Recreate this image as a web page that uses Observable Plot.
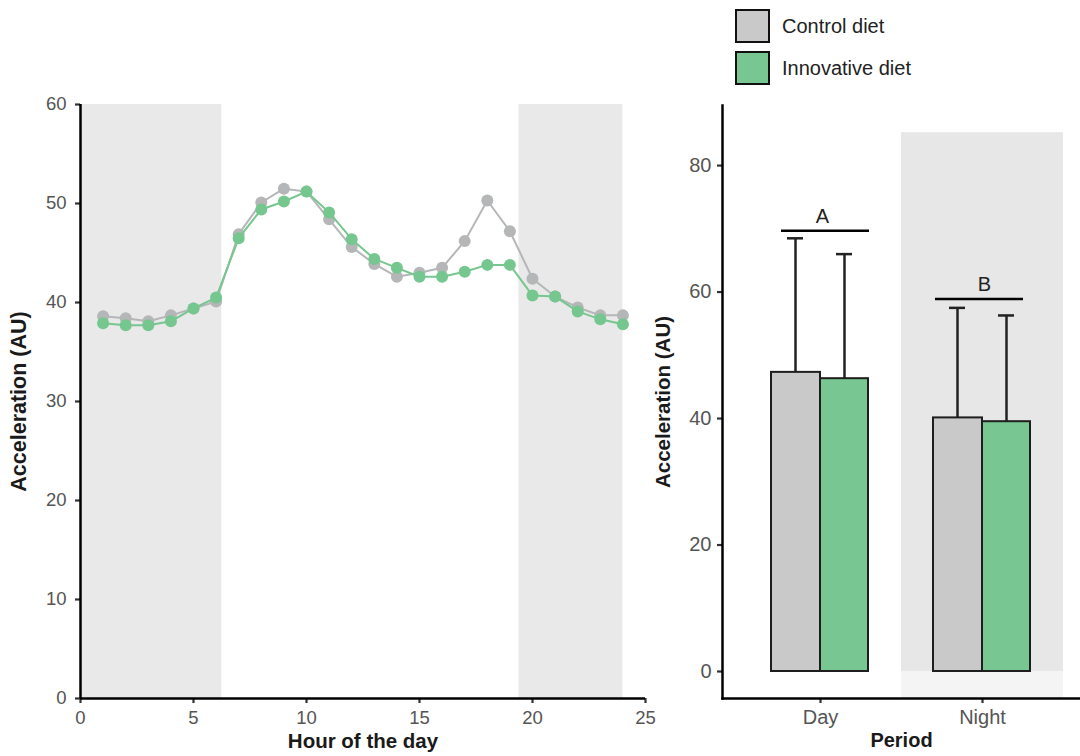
<!DOCTYPE html>
<html>
<head>
<meta charset="utf-8">
<script src="https://cdn.jsdelivr.net/npm/d3@7"></script>
<script src="https://cdn.jsdelivr.net/npm/@observablehq/plot@0.6"></script>
<style>
  html, body { margin: 0; padding: 0; background: #fff; }
  #wrap { position: relative; width: 1080px; height: 756px; overflow: hidden; font-family: "Liberation Sans", Arial, sans-serif; }
  #left, #right { position: absolute; top: 0; }
  #left { left: 0; }
  #right { left: 640px; }
  .legend { position: absolute; left: 735px; top: 9px; }
  .item { display: flex; align-items: center; height: 34px; margin-bottom: 8px; }
  .sw { width: 31px; height: 30px; border: 2px solid #111; margin-right: 12px; }
  .lab { font-size: 20px; color: #222; }
  svg { background: transparent !important; }
</style>
</head>
<body>
<div id="wrap">
  <div id="left"></div>
  <div id="right"></div>
  <div class="legend" id="legend"></div>
</div>
<script>
// ---- Data ----
const diets = ["Control diet", "Innovative diet"];
const dietColors = ["#c8c9c8", "#78c792"];
const lineColors = ["#b5b6b7", "#76c68f"];

const hours = [1,2,3,4,5,6,7,8,9,10,11,12,13,14,15,16,17,18,19,20,21,22,23,24];
const controlAccel = [38.6,38.4,38.1,38.7,39.4,40.1,46.9,50.1,51.5,51.2,48.4,45.6,43.9,42.6,43.0,43.5,46.2,50.3,47.2,42.4,40.6,39.5,38.7,38.7];
const innovativeAccel = [37.9,37.7,37.7,38.1,39.4,40.5,46.5,49.4,50.2,51.2,49.1,46.4,44.4,43.5,42.6,42.6,43.1,43.8,43.8,40.7,40.6,39.1,38.3,37.8];
const nightStart = [0, 19.4];
const nightEnd = [6.25, 24];
const hourTicks = [0,5,10,15,20,25];
const accelTicks = [0,10,20,30,40,50,60];

const periods = ["Day", "Night"];
const controlMean = [47.3, 40.1];
const controlUpper = [68.5, 57.5];
const innovativeMean = [46.3, 39.5];
const innovativeUpper = [66.0, 56.3];
const sigLetters = ["A", "B"];
const sigY = [69.7, 58.9];
const shadeTop = 85.2;
const barTicks = [0,20,40,60,80];
const barYMin = -4.27, barYMax = 89.5;

// ---- Build tables ----
const lineRows = [
  ...hours.map((h, i) => ({hour: h, value: controlAccel[i], diet: diets[0]})),
  ...hours.map((h, i) => ({hour: h, value: innovativeAccel[i], diet: diets[1]}))
];
const nights = nightStart.map((s, i) => ({start: s, end: nightEnd[i]}));
const ctrlRows = periods.map((p, i) => ({period: p, mean: controlMean[i], upper: controlUpper[i], diet: diets[0]}));
const innoRows = periods.map((p, i) => ({period: p, mean: innovativeMean[i], upper: innovativeUpper[i], diet: diets[1]}));
const sigRows = periods.map((p, i) => ({period: p, letter: sigLetters[i], y: sigY[i]}));

const FONT = "Liberation Sans, Arial, sans-serif";

// ---- Left chart ----
const left = Plot.plot({
  width: 665, height: 756,
  marginLeft: 80, marginTop: 104, marginBottom: 58, marginRight: 20,
  style: {fontFamily: FONT, fontSize: "18px", background: "transparent"},
  x: {domain: [0, 25], axis: null},
  y: {domain: [0, 60], axis: null},
  color: {domain: diets, range: lineColors},
  marks: [
    Plot.rect(nights, {x1: "start", x2: "end", y1: 0, y2: 60, fill: "#e8e9e8"}),
    Plot.line(lineRows.filter(d => d.diet === diets[0]), {x: "hour", y: "value", stroke: "diet", strokeWidth: 2}),
    Plot.dot(lineRows.filter(d => d.diet === diets[0]), {x: "hour", y: "value", fill: "diet", r: 6}),
    Plot.line(lineRows.filter(d => d.diet === diets[1]), {x: "hour", y: "value", stroke: "diet", strokeWidth: 2}),
    Plot.dot(lineRows.filter(d => d.diet === diets[1]), {x: "hour", y: "value", fill: "diet", r: 6}),
    Plot.axisX({ticks: hourTicks, tickSize: 5, tickPadding: 7, stroke: "#333", strokeWidth: 2.2, fill: "#555", fontSize: 18.5, label: null}),
    Plot.axisY({ticks: accelTicks, tickSize: 5, tickPadding: 9, stroke: "#333", strokeWidth: 2.2, fill: "#555", fontSize: 18.5, label: null}),
    Plot.ruleX([0], {stroke: "#000", strokeWidth: 2.5}),
    Plot.ruleY([0], {stroke: "#000", strokeWidth: 2.5}),
    Plot.text(["Hour of the day"], {frameAnchor: "bottom", textAnchor: "middle", dy: 49, fontWeight: "bold", fontSize: 20.5, fill: "#1a1a1a"}),
    Plot.text(["Acceleration (AU)"], {frameAnchor: "left", textAnchor: "middle", dx: -61, rotate: -90, fontWeight: "bold", fontSize: 21.5, fill: "#1a1a1a"})
  ]
});
document.getElementById("left").appendChild(left);

// ---- Right chart ----
const right = Plot.plot({
  width: 440, height: 756,
  marginLeft: 82, marginTop: 105, marginBottom: 58, marginRight: 0,
  style: {fontFamily: FONT, fontSize: "20px", background: "transparent"},
  x: {domain: periods, paddingInner: 0, paddingOuter: 0.1, axis: null},
  y: {domain: [barYMin, barYMax], axis: null},
  color: {domain: diets, range: dietColors},
  marks: [
    Plot.barY(periods.filter(p => p === "Night"), {x: d => d, y1: 0, y2: shadeTop, fill: "#e6e7e6"}),
    Plot.barY(periods.filter(p => p === "Night"), {x: d => d, y1: barYMin, y2: 0, fill: "#f3f4f3"}),
    Plot.ruleX(ctrlRows, {x: "period", y1: "mean", y2: "upper", dx: -25, stroke: "#222", strokeWidth: 2.5}),
    Plot.tickY(ctrlRows, {x: "period", y: "upper", dx: -25, insetLeft: 73, insetRight: 73, stroke: "#222", strokeWidth: 2.5}),
    Plot.ruleX(innoRows, {x: "period", y1: "mean", y2: "upper", dx: 24, stroke: "#222", strokeWidth: 2.5}),
    Plot.tickY(innoRows, {x: "period", y: "upper", dx: 24, insetLeft: 73, insetRight: 73, stroke: "#222", strokeWidth: 2.5}),
    Plot.barY(ctrlRows, {x: "period", y: "mean", fill: "diet", stroke: "#1e1e1e", strokeWidth: 2, insetLeft: 32, insetRight: 81}),
    Plot.barY(innoRows, {x: "period", y: "mean", fill: "diet", stroke: "#1e1e1e", strokeWidth: 2, insetLeft: 81, insetRight: 33}),
    Plot.tickY(sigRows.filter(d => d.period === "Day"), {x: "period", y: "y", insetLeft: 42, insetRight: 32, stroke: "#000", strokeWidth: 2.5}),
    Plot.tickY(sigRows.filter(d => d.period === "Night"), {x: "period", y: "y", insetLeft: 34, insetRight: 40, stroke: "#000", strokeWidth: 2.5}),
    Plot.text(sigRows, {x: "period", y: "y", text: "letter", dy: -14, dx: 2, fontSize: 20, fill: "#222"}),
    Plot.axisX({tickSize: 5, tickPadding: 6, stroke: "#333", strokeWidth: 2.2, fill: "#555", fontSize: 20, label: null}),
    Plot.axisY({ticks: barTicks, tickSize: 5, tickPadding: 6, stroke: "#333", strokeWidth: 2.2, fill: "#555", fontSize: 20, label: null}),
    Plot.frame({anchor: "left", stroke: "#000", strokeWidth: 2.5}),
    Plot.frame({anchor: "bottom", stroke: "#000", strokeWidth: 2.5}),
    Plot.text(["Period"], {frameAnchor: "bottom", textAnchor: "middle", dy: 48, fontWeight: "bold", fontSize: 20, fill: "#1a1a1a"}),
    Plot.text(["Acceleration (AU)"], {frameAnchor: "left", textAnchor: "middle", dx: -59, rotate: -90, fontWeight: "bold", fontSize: 20.5, fill: "#1a1a1a"})
  ]
});
document.getElementById("right").appendChild(right);

// ---- Legend ----
const legend = document.getElementById("legend");
diets.forEach((d, i) => {
  const item = document.createElement("div");
  item.className = "item";
  const sw = document.createElement("div");
  sw.className = "sw";
  sw.style.background = dietColors[i];
  const lab = document.createElement("span");
  lab.className = "lab";
  lab.textContent = d;
  item.appendChild(sw);
  item.appendChild(lab);
  legend.appendChild(item);
});
</script>
</body>
</html>
